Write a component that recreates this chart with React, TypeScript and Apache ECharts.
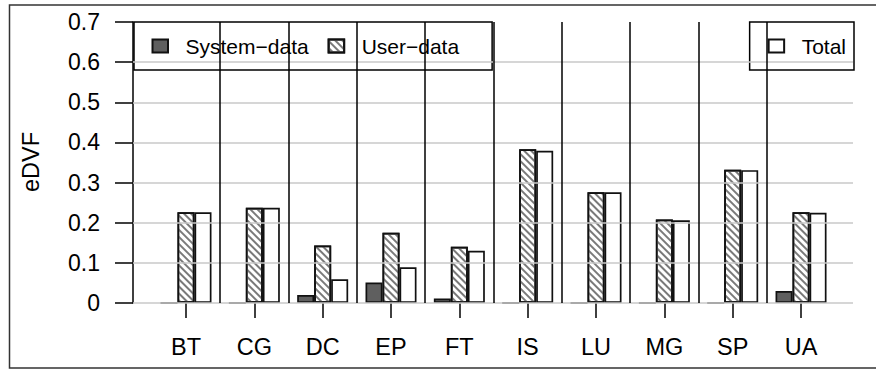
import React, { useEffect, useRef } from "react";
import * as echarts from "echarts";

const categories = ["BT", "CG", "DC", "EP", "FT", "IS", "LU", "MG", "SP", "UA"];
const systemData = [0, 0, 0.02, 0.051, 0.011, 0, 0, 0, 0, 0.03];
const userData = [0.226, 0.237, 0.143, 0.175, 0.14, 0.383, 0.276, 0.208, 0.332, 0.226];
const totalData = [0.226, 0.237, 0.059, 0.089, 0.13, 0.379, 0.276, 0.206, 0.331, 0.225];
const gridLevels = [0, 0.1, 0.2, 0.3, 0.4, 0.5, 0.6];
const seriesNames = ["System\u2212data", "User\u2212data", "Total"];
const yAxisName = "eDVF";

const FONT = "'Liberation Sans', Arial, Helvetica, sans-serif";

export default function App() {
  const ref = useRef<HTMLDivElement>(null);
  useEffect(() => {
    if (!ref.current) return;
    const chart = echarts.init(ref.current, undefined, { renderer: "svg" });
    const barBorder = { borderColor: "#111", borderWidth: 1.7 };
    const legendText = {
      fontFamily: FONT,
      fontSize: 21,
      color: "#000",
      lineHeight: 22,
      padding: [0, 0, 0, 12.5],
    };
    chart.setOption({
      animation: false,
      backgroundColor: "#fff",
      textStyle: { fontFamily: FONT },
      grid: [
        { left: 133, right: 23, top: 22, bottom: 66 },
        { left: 151.83, right: 40.8, top: 22, bottom: 66 },
      ],
      xAxis: [
        { type: "value", gridIndex: 0, min: 0, max: 1, show: false },
        {
          type: "category",
          gridIndex: 1,
          data: categories,
          axisLine: { show: false },
          axisTick: {
            show: true,
            alignWithLabel: true,
            length: 15,
            lineStyle: { color: "#000", width: 1.5 },
          },
          axisLabel: { fontFamily: FONT, fontSize: 23.5, color: "#000", margin: 32 },
          splitLine: { show: false },
        },
        { type: "value", gridIndex: 1, min: 0, max: 10, show: false },
      ],
      yAxis: [
        {
          type: "value",
          gridIndex: 0,
          min: 0,
          max: 0.7,
          interval: 0.1,
          axisLine: { show: true, lineStyle: { color: "#000", width: 1.5 } },
          axisTick: { show: true, length: 18, lineStyle: { color: "#000", width: 1.5 } },
          axisLabel: {
            fontFamily: FONT,
            fontSize: 23,
            color: "#000",
            margin: 33,
            formatter: (v: number) => (v === 0 ? "0" : v.toFixed(1)),
          },
          splitLine: { show: false },
        },
        { type: "value", gridIndex: 1, min: 0, max: 0.7, show: false },
      ],
      legend: [
        {
          data: [seriesNames[0], seriesNames[1]],
          left: 134,
          top: 22,
          orient: "horizontal",
          padding: [13, 33, 13, 17.5],
          itemGap: 19,
          itemWidth: 15.5,
          itemHeight: 13,
          backgroundColor: "#fff",
          borderColor: "#000",
          borderWidth: 1.5,
          icon: "rect",
          textStyle: legendText,
          selectedMode: false,
        },
        {
          data: [seriesNames[2]],
          right: 22,
          top: 22,
          padding: [13, 8, 13, 18],
          itemWidth: 15.5,
          itemHeight: 13,
          backgroundColor: "#fff",
          borderColor: "#000",
          borderWidth: 1.5,
          icon: "rect",
          textStyle: legendText,
          selectedMode: false,
        },
      ],
      graphic: [
        {
          type: "rect",
          shape: { x: 9.5, y: 5, width: 880, height: 363 },
          style: { fill: "none", stroke: "#333", lineWidth: 1.5 },
          silent: true,
          z: 100,
        },
        {
          type: "text",
          x: 30.5,
          y: 162,
          rotation: Math.PI / 2,
          style: {
            text: yAxisName,
            font: "23.5px 'Liberation Sans', Arial, Helvetica, sans-serif",
            fontFamily: FONT,
            fontSize: 23.5,
            fill: "#000",
            align: "center",
            verticalAlign: "middle",
          },
        },
      ],
      series: [
        {
          type: "scatter",
          xAxisIndex: 0,
          yAxisIndex: 0,
          data: [[0.5, 0]],
          symbolSize: 0,
          silent: true,
          z: 1,
          markLine: {
            silent: true,
            symbol: ["none", "none"],
            label: { show: false },
            lineStyle: { color: "#c8c8c8", width: 1.5, type: "solid" },
            data: gridLevels.map((v) => ({ yAxis: v })),
          },
        },
        {
          type: "scatter",
          xAxisIndex: 2,
          yAxisIndex: 1,
          data: [[0.5, 0]],
          symbolSize: 0,
          silent: true,
          z: 3,
          markLine: {
            silent: true,
            symbol: ["none", "none"],
            label: { show: false },
            lineStyle: { color: "#000", width: 1.5, type: "solid" },
            data: categories.slice(1).map((_, i) => ({ xAxis: i + 1 })),
          },
        },
        {
          name: seriesNames[0],
          type: "bar",
          xAxisIndex: 1,
          yAxisIndex: 1,
          data: systemData,
          barWidth: 17,
          barGap: "0%",
          z: 2,
          itemStyle: { color: "#5f5f5f", ...barBorder },
        },
        {
          name: seriesNames[1],
          type: "bar",
          xAxisIndex: 1,
          yAxisIndex: 1,
          data: userData,
          barWidth: 17,
          barGap: "0%",
          z: 2,
          itemStyle: {
            color: "#fff",
            ...barBorder,
            decal: {
              symbol: "rect",
              symbolSize: 1,
              color: "#7a7a7a",
              dashArrayX: [1, 0],
              dashArrayY: [1.5, 2.5],
              rotation: Math.PI / 4,
            },
          },
        },
        {
          name: seriesNames[2],
          type: "bar",
          xAxisIndex: 1,
          yAxisIndex: 1,
          data: totalData,
          barWidth: 17,
          barGap: "0%",
          z: 2,
          itemStyle: { color: "#fff", ...barBorder },
        },
      ],
    });
    return () => chart.dispose();
  }, []);
  return (
    <div
      ref={ref}
      style={{ position: "fixed", left: 0, top: 0, width: 876, height: 369, background: "#fff" }}
    />
  );
}
